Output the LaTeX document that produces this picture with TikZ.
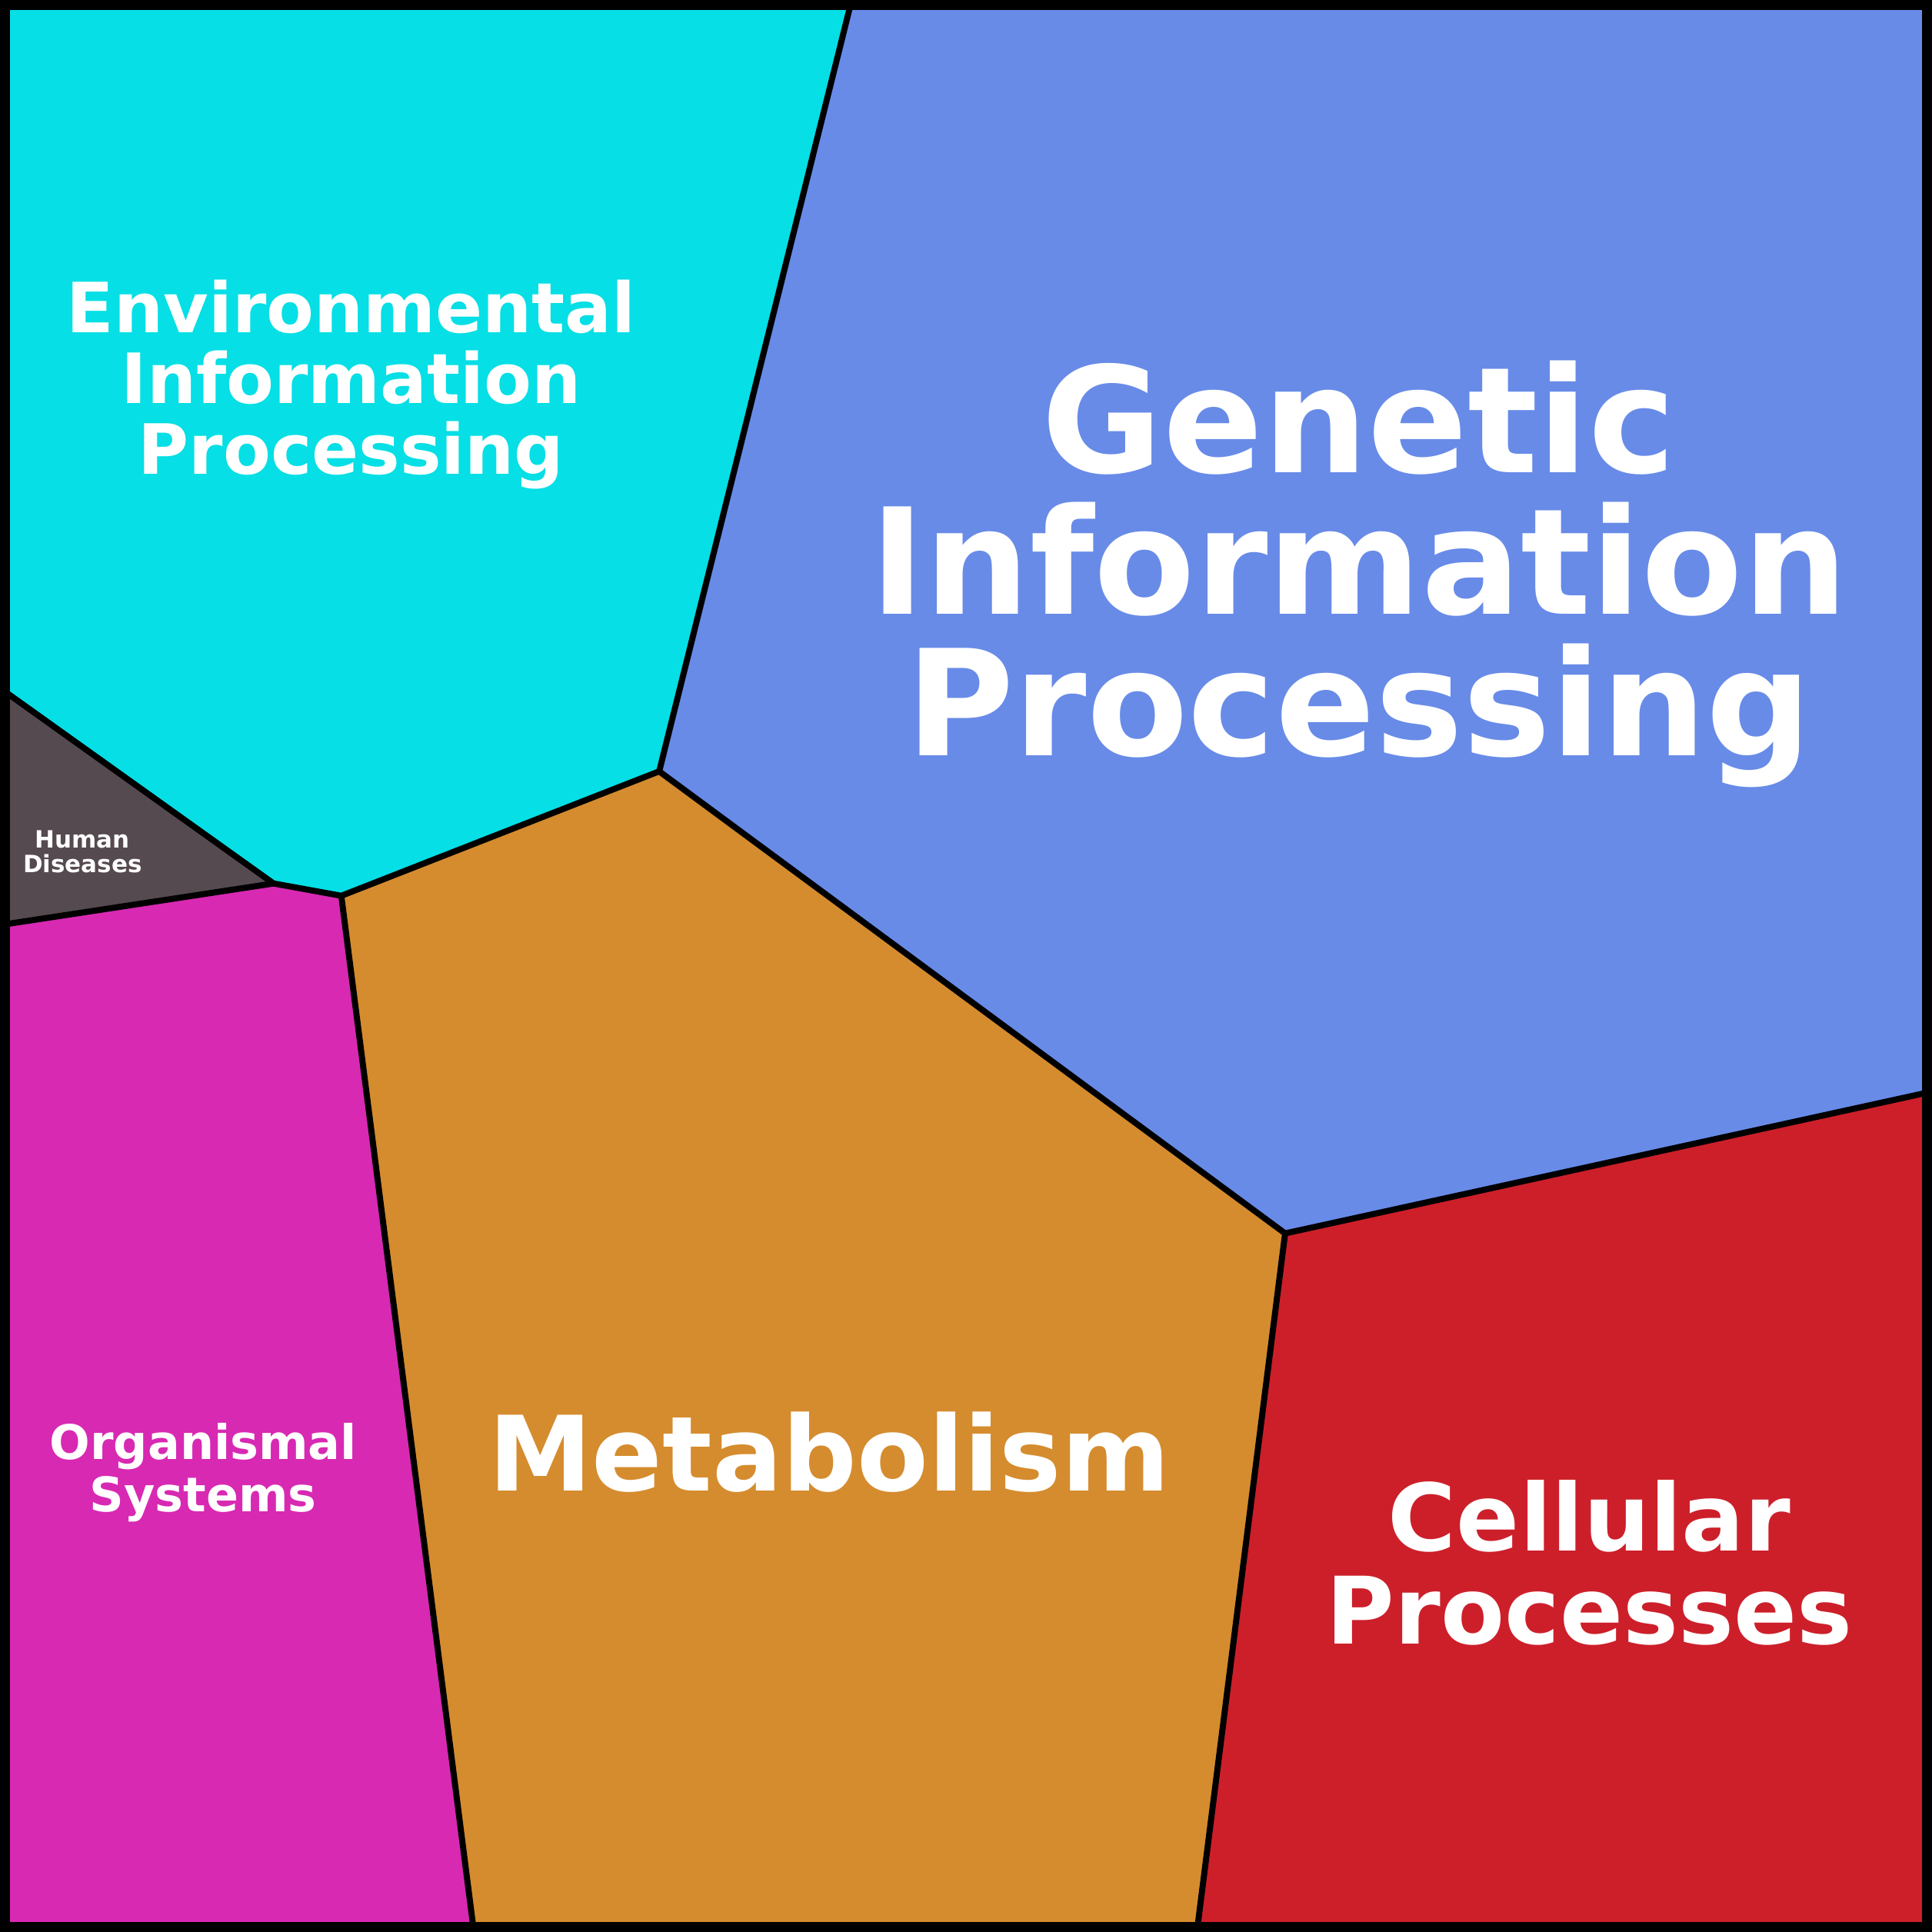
\documentclass[tikz,border=0pt]{standalone}
\usepackage{fontspec}
\setmainfont{DejaVu Sans}
\begin{document}
\begin{tikzpicture}[x=0.01cm,y=-0.01cm,
 cell/.style={draw=black,line width=1.4pt,line join=round},
 lab/.style={text=white,font=\bfseries,align=center,inner sep=0pt}]
\useasboundingbox (0,0) rectangle (1568,1568);
\definecolor{cyanc}{HTML}{05DFE5}\definecolor{bluec}{HTML}{688BE8}
\definecolor{greyc}{HTML}{554A50}\definecolor{magc}{HTML}{D829B3}
\definecolor{orac}{HTML}{D58C2E}\definecolor{redc}{HTML}{CD1F2A}
\coordinate (tl) at (5,5); \coordinate (tm) at (690,5); \coordinate (tr) at (1563,5);
\coordinate (e1) at (535,626); \coordinate (e2) at (277,727); \coordinate (e3) at (222,717);
\coordinate (l1) at (5,562); \coordinate (l2) at (5,750); \coordinate (bl) at (5,1563);
\coordinate (b1) at (384,1563); \coordinate (b2) at (972,1563); \coordinate (br) at (1563,1563);
\coordinate (m1) at (1043,1001); \coordinate (r1) at (1563,887);
\fill[cyanc] (tl)--(tm)--(e1)--(e2)--(e3)--(l1)--cycle;
\fill[bluec] (tm)--(tr)--(r1)--(m1)--(e1)--cycle;
\fill[greyc] (l1)--(e3)--(l2)--cycle;
\fill[magc] (l2)--(e3)--(e2)--(b1)--(bl)--cycle;
\fill[orac] (e2)--(e1)--(m1)--(b2)--(b1)--cycle;
\fill[redc] (m1)--(r1)--(br)--(b2)--cycle;
\draw[cell] (tm)--(e1)--(e2)--(e3)--(l1);
\draw[cell] (e3)--(l2);
\draw[cell] (e2)--(b1);
\draw[cell] (e1)--(m1)--(r1);
\draw[cell] (m1)--(b2);
\draw[line width=2.3pt] (4,4) rectangle (1564,1564);
\node[lab,font=\bfseries\fontsize{16}{16.3}\selectfont] (env) at (285,312) {Environmental\\Information\\Processing};
\node[lab,font=\bfseries\fontsize{34}{32.7}\selectfont] (gen) at (1103,466) {Genetic\\Information\\Processing};
\node[lab,font=\bfseries\fontsize{24}{24}\selectfont,anchor=base] (met) at (673,1210) {Metabolism};
\node[lab,font=\bfseries\fontsize{21.5}{21.5}\selectfont] (cel) at (1290,1268) {Cellular\\Processes};
\node[lab,font=\bfseries\fontsize{11}{12}\selectfont] (org) at (165,1195) {Organismal\\Systems};
\node[lab,font=\bfseries\fontsize{5.5}{5.7}\selectfont] (hum) at (67,691) {Human\\Diseases};
\end{tikzpicture}
\end{document}
